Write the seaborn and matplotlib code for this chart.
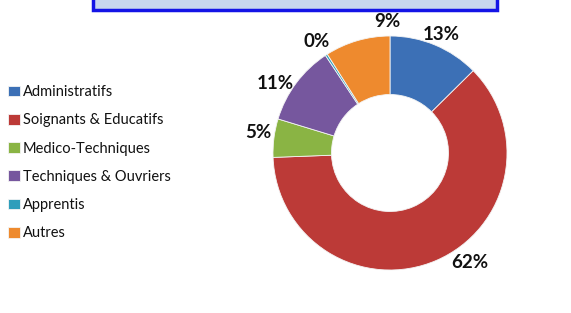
import matplotlib
matplotlib.use("Agg")
import matplotlib.pyplot as plt
from matplotlib.patches import Rectangle
import seaborn as sns
import numpy as np

categories = ["Administratifs", "Soignants & Educatifs", "Medico-Techniques",
              "Techniques & Ouvriers", "Apprentis", "Autres"]
values = [12.6, 61.8, 5.3, 11.0, 0.3, 9.0]
colors = ["#3C70B6", "#BC3A37", "#8AB444", "#76579E", "#2E9EBB", "#EE8A2E"]

sns.set_theme(style="white")
plt.rcParams["font.family"] = ["Lato", "DejaVu Sans"]

W, H = 571, 313
fig = plt.figure(figsize=(W / 100, H / 100), dpi=100)
fig.patch.set_facecolor("white")

# pie axes: centre (390,153) px from top, radius 117 px
R = 117
lim = 1.3
side = 2 * lim * R
cx, cy = 390, H - 153
ax = fig.add_axes([(cx - side / 2) / W, (cy - side / 2) / H, side / W, side / H])
wedges, _ = ax.pie(values, colors=colors, startangle=90, counterclock=False,
                   wedgeprops=dict(width=0.5, edgecolor="#f4f4f4", linewidth=0.6))
ax.set_xlim(-lim, lim)
ax.set_ylim(-lim, lim)
ax.set_aspect("equal")
ax.axis("off")

# label anchor positions (layout, in units of the outer radius)
label_pos = [(0.436, 1.017), (0.684, -0.940), (-1.128, 0.171),
             (-0.983, 0.598), (-0.624, 0.957), (-0.026, 1.12)]
total = sum(values)
for v, (x, y) in zip(values, label_pos):
    ax.text(x, y, f"{round(v / total * 100):.0f}%", ha="center", va="center",
            fontsize=13.5, fontweight="bold", color="#111111", clip_on=False)

# legend
leg = fig.legend(wedges, categories, loc="upper left",
                 bbox_to_anchor=(0.0, (H - 77) / H), frameon=False,
                 fontsize=10.5, handlelength=0.8, handleheight=0.75,
                 handletextpad=0.2, labelspacing=0.98, borderaxespad=0.15)
for t in leg.get_texts():
    t.set_color("#111111")

# cut-off title box at top
fig.patches.append(Rectangle((93 / W, (H - 10) / H), 404 / W, 16 / H,
                             transform=fig.transFigure, facecolor="#c8d6ee",
                             edgecolor="#1414e6", linewidth=2.5, zorder=5))

fig.savefig("out.png", dpi=100)
